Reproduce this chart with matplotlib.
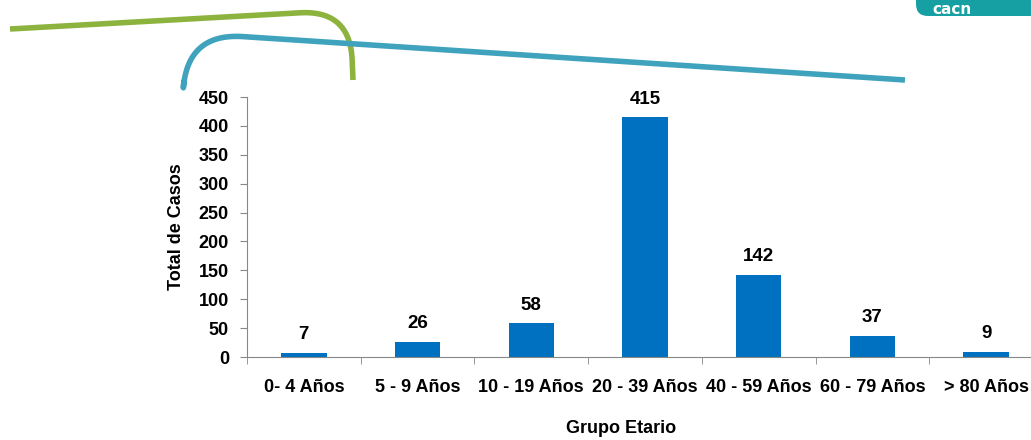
import numpy as np
import matplotlib.pyplot as plt
from matplotlib.patches import FancyBboxPatch

categories = ["0- 4 Años", "5 - 9 Años", "10 - 19 Años", "20 - 39 Años",
              "40 - 59 Años", "60 - 79 Años", "> 80 Años"]
casos = [7, 26, 58, 415, 142, 37, 9]
y_ticks = [0, 50, 100, 150, 200, 250, 300, 350, 400, 450]

FONT = ["Liberation Sans Narrow", "Liberation Sans", "DejaVu Sans"]
plt.rcParams["font.family"] = FONT

W, H = 1031, 440
fig = plt.figure(figsize=(W / 100, H / 100), dpi=100)

# decorative background in pixel coordinates
bg = fig.add_axes([0, 0, 1, 1])
bg.set_xlim(0, W)
bg.set_ylim(H, 0)
bg.axis("off")


def rounded_path(p0, corner, p1, r, n=30):
    # polyline p0 -> corner -> p1 with a rounded corner of radius r
    p0, c, p1 = map(np.asarray, (p0, corner, p1))
    d0 = (p0 - c) / np.linalg.norm(p0 - c)
    d1 = (p1 - c) / np.linalg.norm(p1 - c)
    a = c + d0 * r
    b = c + d1 * r
    t = np.linspace(0, 1, n)[:, None]
    curve = (1 - t) ** 2 * a + 2 * (1 - t) * t * c + t ** 2 * b
    pts = np.vstack([p0, curve, p1])
    return pts[:, 0], pts[:, 1]


gx, gy = rounded_path((10, 29), (350, 10), (353, 80), 50)
bg.plot(gx, gy, color="#8db33f", lw=4, solid_capstyle="butt")
bx, by = rounded_path((184, 80), (188, 33), (905, 80), 55)
bg.plot(bx, by, color="#3fa3bd", lw=4, solid_capstyle="butt")

logo = FancyBboxPatch((916, -20), 140, 36, boxstyle="round,pad=0,rounding_size=12",
                      facecolor="#17a0a4", edgecolor="none")
bg.add_patch(logo)
bg.text(932, 9, "cacn", color="white", fontsize=11, fontweight="bold",
        family=["DejaVu Sans"], va="center", ha="left")

# main chart
left, right = 247 / W, 1043 / W
bottom, top = 1 - 357 / H, 1 - 97 / H
ax = fig.add_axes([left, bottom, right - left, top - bottom])
ax.patch.set_alpha(0)

x = np.arange(len(categories))
bars = ax.bar(x, casos, width=0.4, color="#0070c0")
for xi, v in zip(x, casos):
    ax.annotate(str(v), (xi, v), xytext=(0, 7), textcoords="offset points",
                ha="center", va="bottom", fontsize=13.5, fontweight="bold")

ax.set_xlim(-0.5, len(categories) - 0.5)
ax.set_ylim(0, 450)
ax.set_yticks(y_ticks)
ax.set_xticks(x)
ax.set_xticklabels(categories)
ax.set_xticks(np.arange(len(categories) + 1) - 0.5, minor=True)
ax.tick_params(axis="x", which="major", length=0, pad=16, labelsize=13)
ax.tick_params(axis="x", which="minor", length=5, color="#888888", direction="out")
ax.tick_params(axis="y", length=5, color="#888888", direction="out", pad=8, labelsize=13)
for lab in ax.get_xticklabels() + ax.get_yticklabels():
    lab.set_fontweight("bold")

for s in ("top", "right"):
    ax.spines[s].set_visible(False)
for s in ("left", "bottom"):
    ax.spines[s].set_color("#888888")

ax.set_ylabel("Total de Casos", fontsize=13, fontweight="bold", labelpad=10)
fig.text(621 / W, 1 - 428 / H, "Grupo Etario", fontsize=13, fontweight="bold",
         ha="center", va="center")

fig.savefig("out.png", dpi=100)
